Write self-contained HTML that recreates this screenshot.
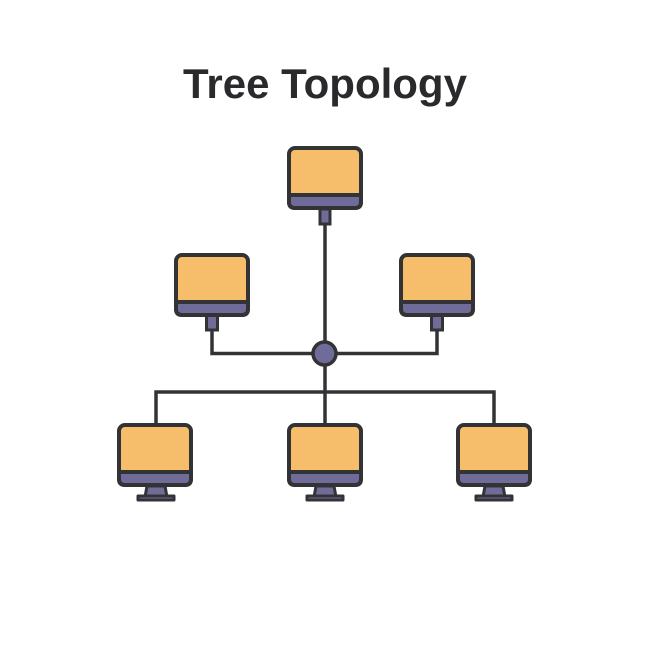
<!DOCTYPE html>
<html><head><meta charset="utf-8"><style>
html,body{margin:0;padding:0;background:#fff;}
svg{display:block;}
</style></head><body>
<svg width="650" height="650" viewBox="0 0 650 650" xmlns="http://www.w3.org/2000/svg">
<rect width="650" height="650" fill="#fff"/>
<text x="325" y="98" text-anchor="middle" font-family="Liberation Sans, sans-serif" font-weight="bold" font-size="42" fill="#2a2a2c">Tree Topology</text>
<g stroke="#333336" stroke-width="3.5" fill="none" stroke-linecap="square">
<line x1="325" y1="224" x2="325" y2="342"/>
<polyline points="212,330 212,353.5 313,353.5"/>
<polyline points="437,330 437,353.5 336,353.5"/>
<line x1="325" y1="365" x2="325" y2="423"/>
<polyline points="156,423 156,392 494,392 494,423"/>
</g>
<circle cx="324.5" cy="353.5" r="11.5" fill="#6f6c99" stroke="#333336" stroke-width="3.5"/>
<defs>
<g id="mon">
<rect x="2" y="2" width="72" height="60" rx="6" fill="#f6be6b" stroke="#333336" stroke-width="4"/>
<path d="M2 49 H74 V56 Q74 62 68 62 H8 Q2 62 2 56 Z" fill="#6f6c99" stroke="#333336" stroke-width="4"/>
</g>
</defs>
<g stroke="#333336" stroke-width="3" fill="#6f6c99">
<rect x="320" y="209" width="10" height="15"/>
<rect x="206.5" y="315" width="11" height="15"/>
<rect x="431.5" y="315" width="11" height="15"/>
</g>
<use href="#mon" x="287" y="146"/>
<use href="#mon" x="174" y="253"/>
<use href="#mon" x="399" y="253"/>
<g stroke="#333336" stroke-width="3" fill="#6f6c99" stroke-linejoin="round">
<polygon points="147,486 165,486 167,497 145,497"/>
<rect x="138" y="496" width="36" height="4"/>
<polygon points="316,486 334,486 336,497 314,497"/>
<rect x="307" y="496" width="36" height="4"/>
<polygon points="485,486 503,486 505,497 483,497"/>
<rect x="476" y="496" width="36" height="4"/>
</g>
<use href="#mon" x="117" y="423"/>
<use href="#mon" x="287" y="423"/>
<use href="#mon" x="456" y="423"/>
</svg>
</body></html>
